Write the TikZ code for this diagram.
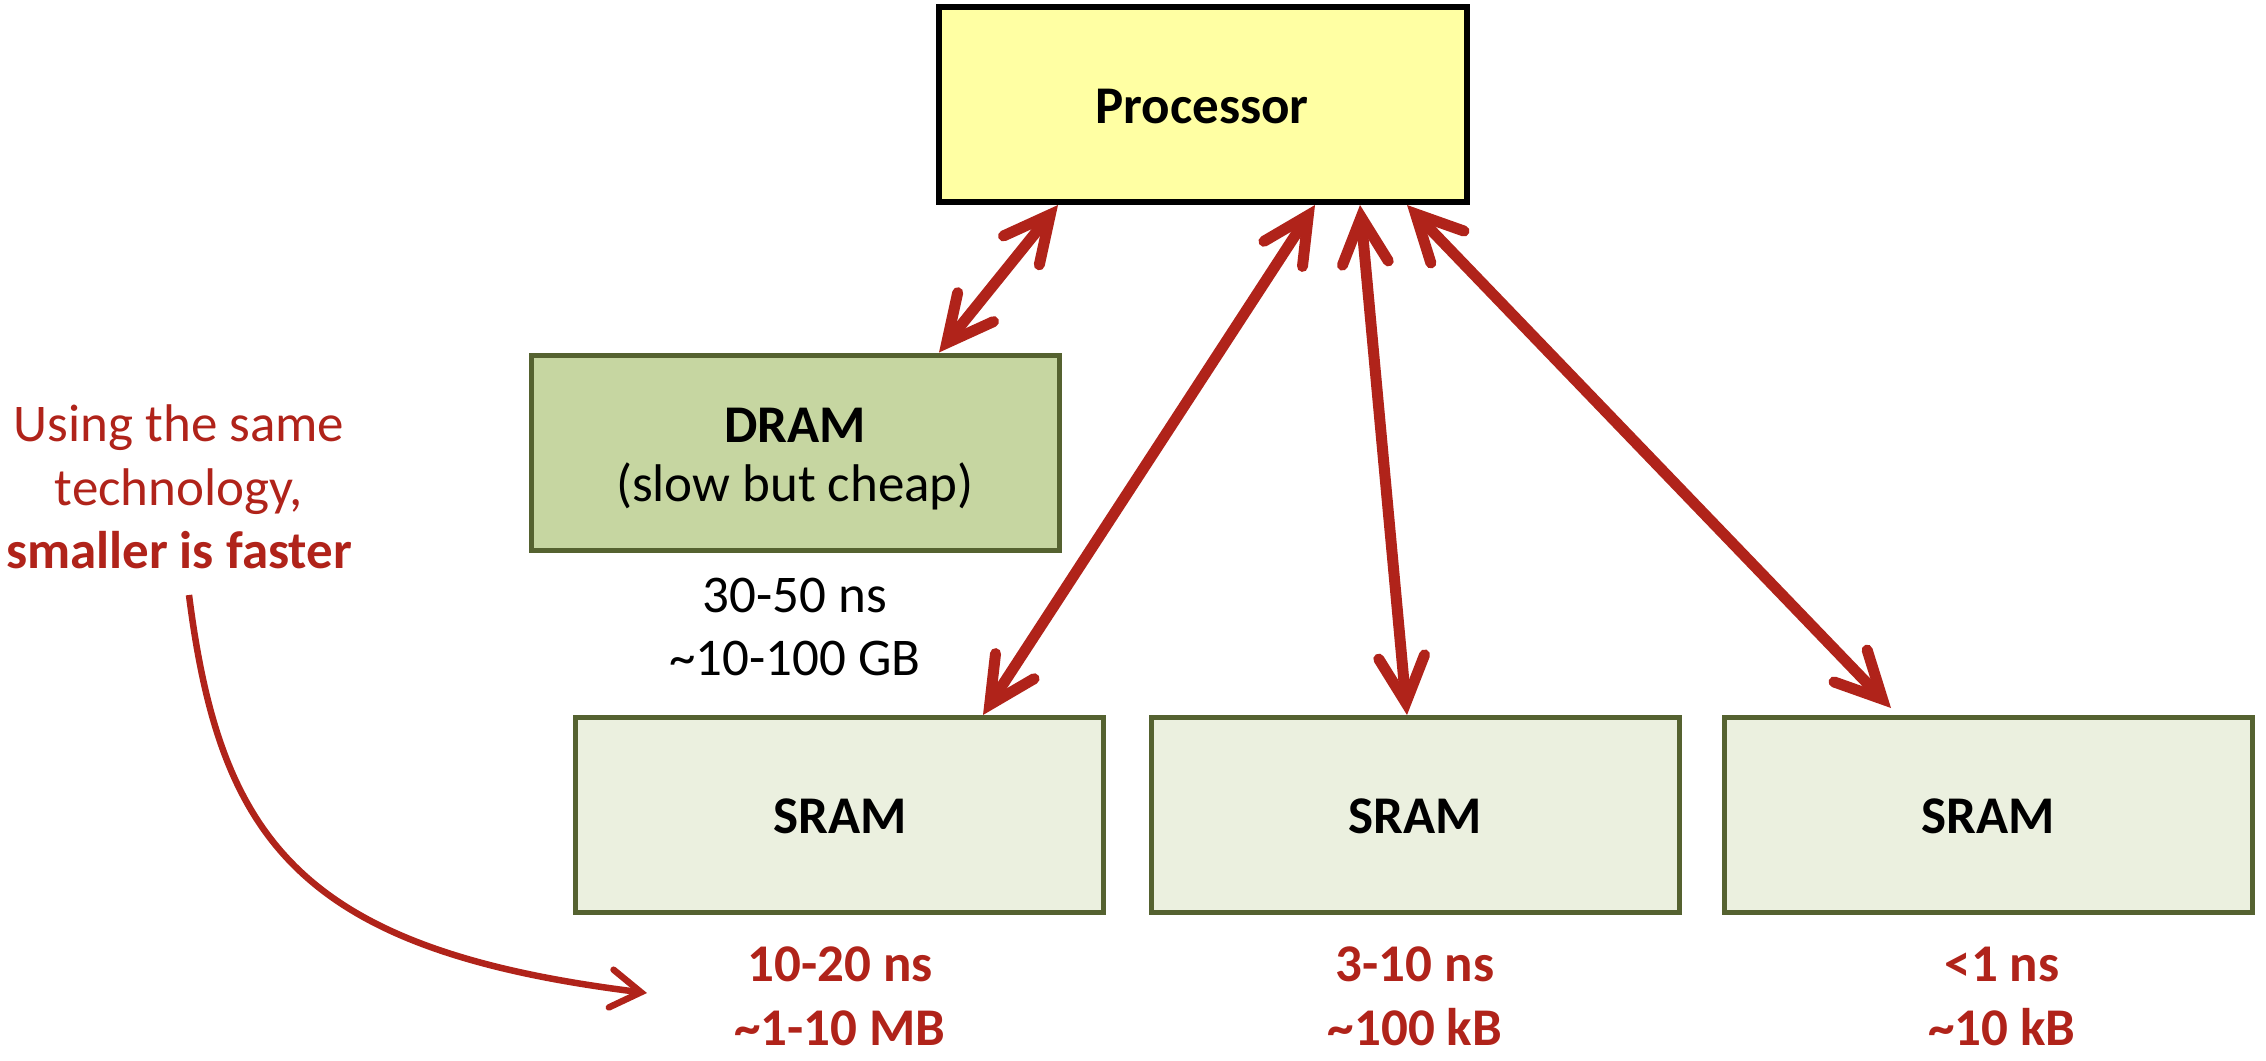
\documentclass[tikz,border=0pt]{standalone}
\usepackage{fontspec}
\setmainfont{Carlito}
\usetikzlibrary{arrows.meta}
\definecolor{arrowred}{RGB}{176,35,26}
\definecolor{boxedge}{RGB}{85,98,48}
\definecolor{procfill}{RGB}{255,255,163}
\definecolor{dramfill}{RGB}{198,214,161}
\definecolor{sramfill}{RGB}{235,240,223}
\begin{document}
\begin{tikzpicture}[x=1pt,y=-1pt,
  memblock/.style={draw=boxedge, line width=5pt, rectangle, inner sep=0pt,
    minimum width=528pt, minimum height=195pt},
  lbl/.style={anchor=base, inner sep=0pt, font=\fontsize{53}{64}\selectfont},
  blbl/.style={lbl, font=\fontsize{53}{64}\selectfont\bfseries},
  redlbl/.style={blbl, text=arrowred},
  link/.style={draw=arrowred, line width=11pt,
    {Straight Barb[length=46pt,width=46pt,line cap=round,line join=miter]}-{Straight Barb[length=46pt,width=46pt,line cap=round,line join=miter]}},
  hint/.style={draw=arrowred, line width=6.5pt,
    -{Straight Barb[length=30pt,width=38pt,line cap=round,line join=miter]}}
]
\useasboundingbox (0,0) rectangle (2266,1060);

% boxes
\node[draw=black, fill=procfill, line width=6pt, rectangle, inner sep=0pt,
  minimum width=528pt, minimum height=195pt] (proc) at (1203,104.5) {};
\node[memblock, fill=dramfill] (dram) at (795,452.5) {};
\node[memblock, fill=sramfill] (sramA) at (839.5,815) {};
\node[memblock, fill=sramfill] (sramB) at (1415,815) {};
\node[memblock, fill=sramfill] (sramC) at (1988.5,815) {};

% box labels
\node[blbl] (procT) at (1202,123) {Processor};
\node[blbl] (dramT) at (795,442) {DRAM};
\node[lbl] (dramU) at (795,501) {(slow but cheap)};
\node[blbl] (sramAT) at (840,833) {SRAM};
\node[blbl] (sramBT) at (1415,833) {SRAM};
\node[blbl] (sramCT) at (1988,833) {SRAM};

% figures
\node[lbl] (dramL) at (795,612) {30-50 ns};
\node[lbl] (dramS) at (795,675) {\textasciitilde10-100 GB};
\node[redlbl] (sramAL) at (840,981) {10-20 ns};
\node[redlbl] (sramAS) at (840,1045) {\textasciitilde1-10 MB};
\node[redlbl] (sramBL) at (1415,981) {3-10 ns};
\node[redlbl] (sramBS) at (1415,1045) {\textasciitilde100 kB};
\node[redlbl] (sramCL) at (2002,981) {<1 ns};
\node[redlbl] (sramCS) at (2002,1045) {\textasciitilde10 kB};

% side note
\node[lbl, text=arrowred] (noteA) at (179,441) {Using the same};
\node[lbl, text=arrowred] (noteB) at (179,505) {technology,};
\node[redlbl] (noteC) at (179,568) {smaller is faster};

% connectors
\path[link] ([xshift=-145pt]proc.south) -- ([xshift=144pt]dram.north);
\path[link] ([xshift=112pt]proc.south) -- ([xshift=143.5pt]sramA.north);
\path[link] ([xshift=157pt]proc.south) -- ([xshift=-8pt]sramB.north);
\path[link] ([xshift=204pt]proc.south) -- ([xshift=-97.5pt,yshift=7pt]sramC.north);

\coordinate (hs) at (189,595);
\coordinate (he) at (647,993);
\path[hint] (hs) .. controls (220,840) and (300,950) .. (he);
\end{tikzpicture}
\end{document}
